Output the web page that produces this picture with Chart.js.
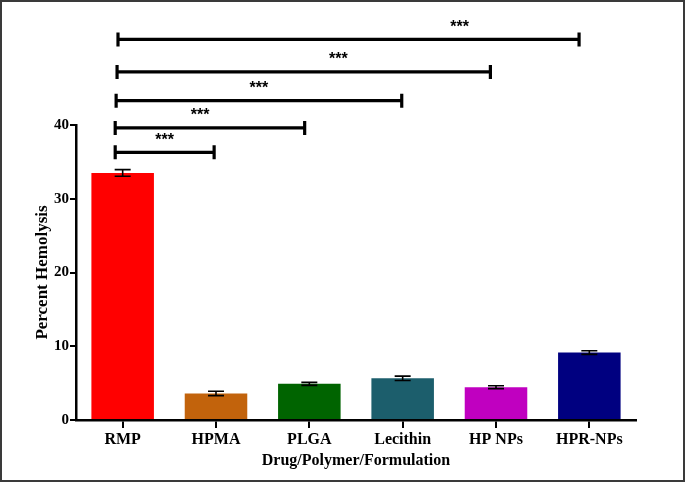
<!DOCTYPE html>
<html><head><meta charset="utf-8">
<script src="https://cdn.jsdelivr.net/npm/chart.js@4.4.1/dist/chart.umd.min.js"></script>
<style>
html,body{margin:0;padding:0;background:#fff;}
#wrap{width:685px;height:482px;box-sizing:border-box;border:2px solid #3a3a3a;background:#fff;}
canvas{display:block;}
</style></head>
<body><div id="wrap"><canvas id="c" width="681" height="478"></canvas></div>
<script>
const categories = ["RMP","HPMA","PLGA","Lecithin","HP NPs","HPR-NPs"];
const hemolysis = [33.5, 3.6, 4.9, 5.65, 4.45, 9.15];
const errors = [0.45, 0.3, 0.2, 0.3, 0.2, 0.25];
const barColors = ["#ff0000","#c2630c","#006400","#1c5e6c","#c000c0","#000080"];
const yTicks = [0,10,20,30,40];
// significance brackets: start/end in category units, height in data units, star x in category units
const bracketFrom = [-0.08,-0.08,-0.07,-0.06,-0.05];
const bracketTo = [0.98,1.95,2.99,3.94,4.89];
const bracketY = [36.3,39.6,43.3,47.2,51.6];
const starX = [0.45,0.83,1.46,2.31,3.61];
const starLabels = ["***","***","***","***","***"];

const serif = "'Liberation Serif','Times New Roman',serif";

const errPlugin = {
  id:'err',
  afterDatasetsDraw(chart){
    const ctx=chart.ctx, y=chart.scales.y, meta=chart.getDatasetMeta(0);
    ctx.save(); ctx.strokeStyle='#000'; ctx.lineWidth=1.6;
    meta.data.forEach((b,i)=>{
      const yt=y.getPixelForValue(hemolysis[i]+errors[i]);
      const yb=y.getPixelForValue(hemolysis[i]-errors[i]);
      ctx.beginPath();
      ctx.moveTo(b.x,yt);ctx.lineTo(b.x,yb);
      ctx.moveTo(b.x-8,yt);ctx.lineTo(b.x+8,yt);
      ctx.moveTo(b.x-8,yb);ctx.lineTo(b.x+8,yb);
      ctx.stroke();
    });
    ctx.restore();
  }
};
const bracketPlugin = {
  id:'brackets',
  afterDraw(chart){
    const ctx=chart.ctx, x=chart.scales.x, y=chart.scales.y;
    const step = x.getPixelForValue(1)-x.getPixelForValue(0);
    const px = v => x.getPixelForValue(0)+v*step;
    ctx.save(); ctx.strokeStyle='#000'; ctx.fillStyle='#000';
    ctx.font="bold 16px 'Liberation Sans',Arial,sans-serif";
    ctx.textAlign='center'; ctx.textBaseline='middle';
    for(let i=0;i<bracketY.length;i++){
      const yy=y.getPixelForValue(bracketY[i]);
      const x1=px(bracketFrom[i]), x2=px(bracketTo[i]);
      ctx.lineWidth=3.2;
      ctx.beginPath();
      ctx.moveTo(x1,yy);ctx.lineTo(x2,yy);
      ctx.stroke();
      ctx.beginPath();
      ctx.moveTo(x1,yy-7);ctx.lineTo(x1,yy+7);
      ctx.moveTo(x2,yy-7);ctx.lineTo(x2,yy+7);
      ctx.stroke();
      ctx.fillText(starLabels[i], px(starX[i]), yy-12);
    }
    ctx.restore();
  }
};

new Chart(document.getElementById('c'),{
  type:'bar',
  data:{labels:categories,datasets:[{data:hemolysis,backgroundColor:barColors,borderColor:barColors,borderWidth:0,barPercentage:0.67,categoryPercentage:1}]},
  options:{
    responsive:false,animation:false,
    layout:{padding:{top:123,right:47,left:30,bottom:10}},
    plugins:{legend:{display:false},tooltip:{enabled:false}},
    scales:{
      x:{
        grid:{display:true,drawOnChartArea:false,drawTicks:true,tickLength:8,offset:false,color:'#000',lineWidth:2},
        border:{display:true,color:'#000',width:2.5},
        ticks:{color:'#000',font:{family:serif,weight:'bold',size:16},padding:2},
        title:{display:true,text:'Drug/Polymer/Formulation',color:'#000',font:{family:serif,weight:'bold',size:16},padding:{top:0,bottom:0}},
        afterFit(s){s.height=50;}
      },
      y:{
        min:0,max:40,
        afterBuildTicks(s){s.ticks=yTicks.map(v=>({value:v}));},
        grid:{display:true,drawOnChartArea:false,drawTicks:true,tickLength:6,color:'#000',lineWidth:2},
        border:{display:true,color:'#000',width:2.5},
        ticks:{color:'#000',font:{family:serif,weight:'bold',size:15},padding:1},
        title:{display:true,text:'Percent Hemolysis',color:'#000',font:{family:serif,weight:'bold',size:17},padding:{top:0,bottom:0}},
        afterFit(s){s.width=44;}
      }
    }
  },
  plugins:[errPlugin,bracketPlugin]
});
</script></body></html>
